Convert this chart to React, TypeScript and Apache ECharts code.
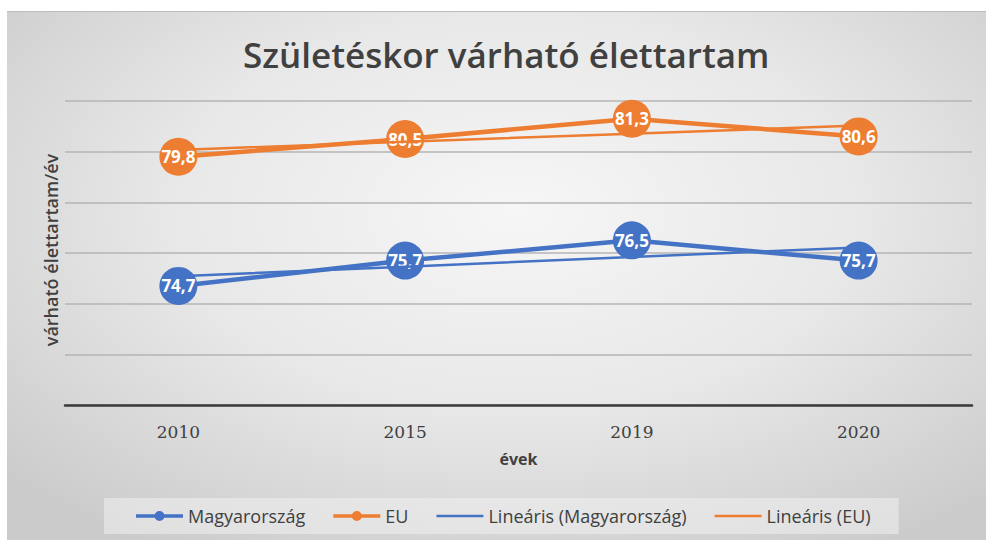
import React, { useEffect, useRef } from "react";
import * as echarts from "echarts";

const categories = ["2010", "2015", "2019", "2020"];
const huValues = [74.7, 75.7, 76.5, 75.7];
const euValues = [79.8, 80.5, 81.3, 80.6];
const huTrend = [75.08, 75.46, 75.84, 76.22];
const euTrend = [80.07, 80.39, 80.71, 81.03];
const seriesNames = ["Magyarország", "EU", "Lineáris (Magyarország)", "Lineáris (EU)"];
const yMin = 70;
const yMax = 82;
const yStep = 2;
const titleText = "Születéskor várható élettartam";
const xAxisName = "évek";
const yAxisName = "várható élettartam/év";

const BLUE = "#4472C4";
const ORANGE = "#ED7D31";
const TEXT = "#404040";

const ICON_MARKER =
  "path://M0,3.2L47,3.2L47,6.8L0,6.8Z M18.5,5 A5,5 0 1,1 28.5,5 A5,5 0 1,1 18.5,5 Z";
const ICON_LINE = "path://M0,0L47,0L47,2.6L0,2.6Z";

export default function App() {
  const ref = useRef<HTMLDivElement>(null);
  useEffect(() => {
    if (!ref.current) return;
    const chart = echarts.init(ref.current, undefined, { renderer: "svg" });
    const fmt = (p: any) => String(p.value).replace(".", ",");
    const dataSeries = (name: string, data: number[], color: string) => ({
      name,
      type: "line",
      data,
      z: 3,
      symbol: "circle",
      symbolSize: 38,
      lineStyle: { color, width: 4.5 },
      itemStyle: { color },
      label: {
        show: true,
        position: "inside",
        formatter: fmt,
        color: "#ffffff",
        fontFamily: "Open Sans",
        fontWeight: "bold",
        fontSize: 17,
      },
    });
    const trendSeries = (name: string, data: number[], color: string) => ({
      name,
      type: "line",
      data,
      z: 4,
      symbol: "none",
      showSymbol: false,
      lineStyle: { color, width: 2.5 },
      itemStyle: { color },
    });
    chart.setOption({
      animation: false,
      title: {
        text: titleText,
        left: 238,
        top: 32,
        textStyle: { fontFamily: "Open Sans", fontWeight: 600, fontSize: 35, color: TEXT },
      },
      grid: { left: 65, right: 14, top: 101, bottom: 135, containLabel: false },
      legend: {
        bottom: 6,
        left: 104,
        itemWidth: 47,
        itemHeight: 10,
        itemGap: 28,
        itemStyle: { borderWidth: 0 },
        backgroundColor: "rgba(240,240,240,0.55)",
        padding: [9, 28, 9, 32],
        textStyle: { fontFamily: "Open Sans", fontSize: 18, color: TEXT },
        data: [
          { name: seriesNames[0], icon: ICON_MARKER, itemStyle: { color: BLUE } },
          { name: seriesNames[1], icon: ICON_MARKER, itemStyle: { color: ORANGE } },
          { name: seriesNames[2], icon: ICON_LINE, itemStyle: { color: BLUE } },
          { name: seriesNames[3], icon: ICON_LINE, itemStyle: { color: ORANGE } },
        ],
      },
      xAxis: {
        type: "category",
        data: categories,
        boundaryGap: true,
        name: xAxisName,
        nameLocation: "middle",
        nameGap: 46,
        nameTextStyle: { fontFamily: "Open Sans", fontWeight: "bold", fontSize: 16, color: TEXT },
        axisLine: { lineStyle: { color: "#3a3a3a", width: 2.5 } },
        axisTick: { show: false },
        axisLabel: { margin: 18, fontFamily: "DejaVu Serif", fontSize: 17, color: TEXT },
      },
      yAxis: {
        type: "value",
        min: yMin,
        max: yMax,
        interval: yStep,
        axisLabel: { show: false },
        axisLine: { show: false },
        axisTick: { show: false },
        splitLine: { lineStyle: { color: "#b4b4b4", width: 1.5 } },
      },
      graphic: [
        {
          type: "text",
          x: 51,
          y: 250,
          rotation: Math.PI / 2,
          style: {
            text: yAxisName,
            align: "center",
            verticalAlign: "middle",
            fontFamily: "Open Sans",
            fontWeight: 600,
            fontSize: 18,
            fill: TEXT,
          },
        },
      ],
      series: [
        dataSeries(seriesNames[0], huValues, BLUE),
        dataSeries(seriesNames[1], euValues, ORANGE),
        trendSeries(seriesNames[2], huTrend, BLUE),
        trendSeries(seriesNames[3], euTrend, ORANGE),
      ],
    });
    return () => chart.dispose();
  }, []);
  return (
    <div style={{ position: "fixed", left: 0, top: 0, width: 986, height: 540, background: "#ffffff" }}>
      <div
        style={{
          position: "absolute",
          left: 7,
          top: 11,
          width: 979,
          height: 528,
          borderTop: "1px solid #bdbdbd",
          background: "radial-gradient(ellipse 70% 75% at 52% 38%, #f6f6f6 0%, #e8e8e8 50%, #cbcbcb 100%)",
        }}
      />
      <div ref={ref} style={{ position: "absolute", left: 0, top: 0, width: 986, height: 540 }} />
    </div>
  );
}
